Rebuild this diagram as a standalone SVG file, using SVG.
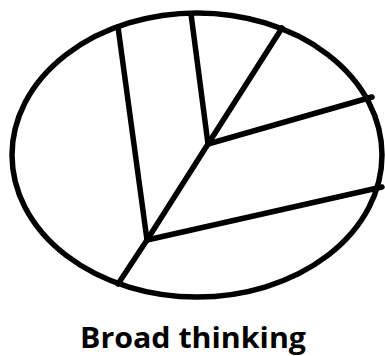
<svg xmlns="http://www.w3.org/2000/svg" width="385" height="356" viewBox="0 0 385 356">
<style>
.s{fill:none;stroke:#000;stroke-width:5.5;stroke-linecap:round;stroke-linejoin:round}
.t{font-family:"Open Sans","Liberation Sans",sans-serif;font-weight:bold;font-size:28px;fill:#000}
</style>
<rect width="385" height="356" fill="#fff"/>
<g id="outline">
<ellipse class="s" cx="197" cy="155" rx="185" ry="142"/>
</g>
<g id="connectors">
<path class="s" d="M118,27 L147,240"/>
<path class="s" d="M191,14 L208,144"/>
<path class="s" d="M208,144 L282,28"/>
<path class="s" d="M208,144 L372,97"/>
<path class="s" d="M208,144 L147,240"/>
<path class="s" d="M147,240 L382,187"/>
<path class="s" d="M147,240 L118,284"/>
</g>
<g id="label">
<text class="t" x="193" y="348" text-anchor="middle" textLength="226" lengthAdjust="spacingAndGlyphs">Broad thinking</text>
</g>
</svg>
